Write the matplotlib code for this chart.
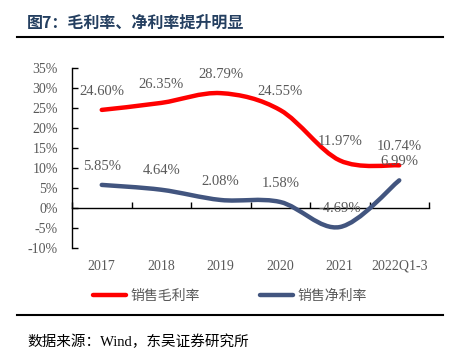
import numpy as np
import matplotlib
matplotlib.use('Agg')
import matplotlib.pyplot as plt
from matplotlib.path import Path
from matplotlib.patches import PathPatch
from matplotlib.lines import Line2D
from matplotlib.ticker import FuncFormatter, FixedLocator

categories = ['2017', '2018', '2019', '2020', '2021', '2022Q1-3']
gross_margin = [24.60, 26.35, 28.79, 24.55, 11.97, 10.74]
net_margin = [5.85, 4.64, 2.08, 1.58, -4.69, 6.99]
series_names = ['销售毛利率', '销售净利率']

RED = '#FF0000'
NAVY = '#42557F'
GRAY = '#595959'
SERIF = ['Liberation Serif', 'Noto Sans CJK SC']
CJK = ['Noto Sans CJK SC', 'DejaVu Sans']


def smooth_path(xs, ys):
    # Catmull-Rom style bezier through the points (like Excel's smoothed line)
    pts = np.column_stack([xs, ys]).astype(float)
    n = len(pts)
    verts = [pts[0]]
    codes = [Path.MOVETO]
    for i in range(n - 1):
        p0 = pts[max(i - 1, 0)]
        p1 = pts[i]
        p2 = pts[i + 1]
        p3 = pts[min(i + 2, n - 1)]
        c1 = p1 + (p2 - p0) / 6.0
        c2 = p2 - (p3 - p1) / 6.0
        verts += [c1, c2, p2]
        codes += [Path.CURVE4] * 3
    return Path(verts, codes)


fig = plt.figure(figsize=(4.57, 3.64), dpi=100)
ax = fig.add_axes([72 / 457, 1 - 248.3 / 364, 357 / 457, 180 / 364])

x = np.arange(len(categories))
for vals, color in [(net_margin, NAVY), (gross_margin, RED)]:
    patch = PathPatch(smooth_path(x, vals), fill=False, edgecolor=color,
                      lw=3.2, capstyle='round', joinstyle='round', zorder=3)
    ax.add_patch(patch)
    for xi, v in zip(x, vals):
        ax.annotate('%.2f%%' % v, (xi, v), xytext=(0, 13.5),
                    textcoords='offset points', ha='center', va='center',
                    fontsize=10.5, color=GRAY, family=SERIF, zorder=4)

ax.set_xlim(-0.5, len(categories) - 0.5)
ax.set_ylim(-10, 35)
ax.set_yticks(np.arange(-10, 36, 5))
ax.yaxis.set_major_formatter(FuncFormatter(lambda v, p: '%d%%' % v))

ax.spines['top'].set_visible(False)
ax.spines['right'].set_visible(False)
ax.spines['bottom'].set_position(('data', 0))
ax.spines['bottom'].set_linewidth(1.0)
ax.spines['left'].set_linewidth(1.0)

ax.set_xticks(x)
ax.set_xticklabels(categories)
ax.xaxis.set_minor_locator(FixedLocator(np.arange(-0.5, len(categories), 1)))
ax.tick_params(axis='x', which='major', length=0, pad=37, labelsize=10,
               labelcolor=GRAY)
ax.tick_params(axis='x', which='minor', direction='in', length=4, width=1)
ax.tick_params(axis='y', direction='in', length=4, width=1, pad=10,
               labelsize=10, labelcolor=GRAY)
for lab in ax.get_xticklabels() + ax.get_yticklabels():
    lab.set_family(SERIF)

handles = [Line2D([], [], color=RED, lw=3.2, solid_capstyle='round'),
           Line2D([], [], color=NAVY, lw=3.2, solid_capstyle='round')]
leg = fig.legend(handles, series_names, loc='center', bbox_to_anchor=(0.503, 1 - 296 / 364),
                 ncol=2, frameon=False, handlelength=2.4, handletextpad=0.3,
                 columnspacing=4.3, prop={'family': CJK, 'size': 10})
for t in leg.get_texts():
    t.set_color(GRAY)

fig.text(27 / 457, 1 - 22.7 / 364, '图7：毛利率、净利率提升明显', ha='left', va='center',
         fontsize=11.5, fontweight='bold', color='#243F60', family=CJK)
fig.add_artist(Line2D([17 / 457, 443 / 457], [1 - 37.3 / 364] * 2,
                      transform=fig.transFigure, color='black', lw=1.5))
fig.add_artist(Line2D([17 / 457, 443 / 457], [1 - 315 / 364] * 2,
                      transform=fig.transFigure, color='black', lw=1.5))
fig.text(27 / 457, 1 - 341.7 / 364, '数据来源：Wind，东吴证券研究所', ha='left', va='center',
         fontsize=10.5, color='black', family=SERIF)

fig.savefig('out.png', dpi=100)
